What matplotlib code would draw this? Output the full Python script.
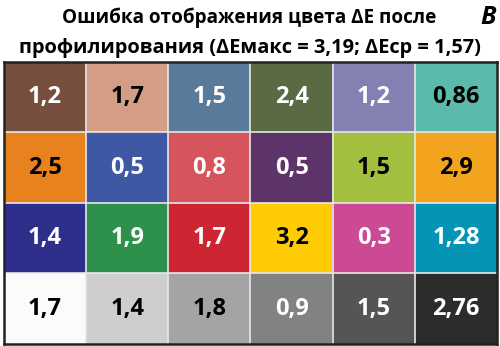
import matplotlib.pyplot as plt
import matplotlib.colors as mcolors
import numpy as np

# ColorChecker patches and dE values, row by row
values = [
    ["1,2", "1,7", "1,5", "2,4", "1,2", "0,86"],
    ["2,5", "0,5", "0,8", "0,5", "1,5", "2,9"],
    ["1,4", "1,9", "1,7", "3,2", "0,3", "1,28"],
    ["1,7", "1,4", "1,8", "0,9", "1,5", "2,76"],
]
patch_colors = [
    ["#774f3e", "#d39e85", "#5a7a9c", "#5a6b44", "#8481b2", "#5cbaaa"],
    ["#e8821e", "#3f58a4", "#d6545c", "#5c346a", "#a3bf3f", "#f2a41e"],
    ["#2d2f8a", "#2e914b", "#cd2531", "#ffcb05", "#cc4a94", "#0494b5"],
    ["#fbfbfb", "#cdcecd", "#a3a4a3", "#828282", "#555555", "#2c2c2a"],
]
text_colors = [
    ["w", "k", "w", "w", "w", "k"],
    ["k", "w", "w", "w", "k", "k"],
    ["w", "w", "w", "k", "w", "w"],
    ["k", "k", "k", "w", "w", "w"],
]

fig = plt.figure(figsize=(5, 3.46), dpi=100)
ax = fig.add_axes([0.008, 0.006, 0.986, 0.815])

img = np.array([[mcolors.to_rgb(c) for c in row] for row in patch_colors])
ax.imshow(img, aspect="auto", extent=(0, 6, 4, 0), interpolation="nearest")

for i in range(4):
    for j in range(6):
        ax.text(j + 0.5, i + 0.5, values[i][j], ha="center", va="center",
                fontsize=17, fontweight="bold", family="Open Sans",
                color=text_colors[i][j])

for x in range(1, 6):
    ax.axvline(x, color="#e8e8e8", lw=1.2)
for y in range(1, 4):
    ax.axhline(y, color="#e8e8e8", lw=1.2)

ax.set_xlim(0, 6)
ax.set_ylim(4, 0)
ax.set_xticks([])
ax.set_yticks([])
for s in ax.spines.values():
    s.set_linewidth(1.8)
    s.set_color("#222222")

fig.text(0.498, 0.948, "Ошибка отображения цвета ΔЕ после", ha="center", va="center",
         fontsize=13.6, fontweight="bold", family="Open Sans")
fig.text(0.5, 0.862, "профилирования (ΔЕмакс = 3,19; ΔЕср = 1,57)", ha="center",
         va="center", fontsize=14.4, fontweight="bold", family="Open Sans")
fig.text(0.976, 0.948, "В", ha="center", va="center", fontsize=18,
         fontweight="bold", style="italic", family="Open Sans")

fig.savefig("out.png", dpi=100)
